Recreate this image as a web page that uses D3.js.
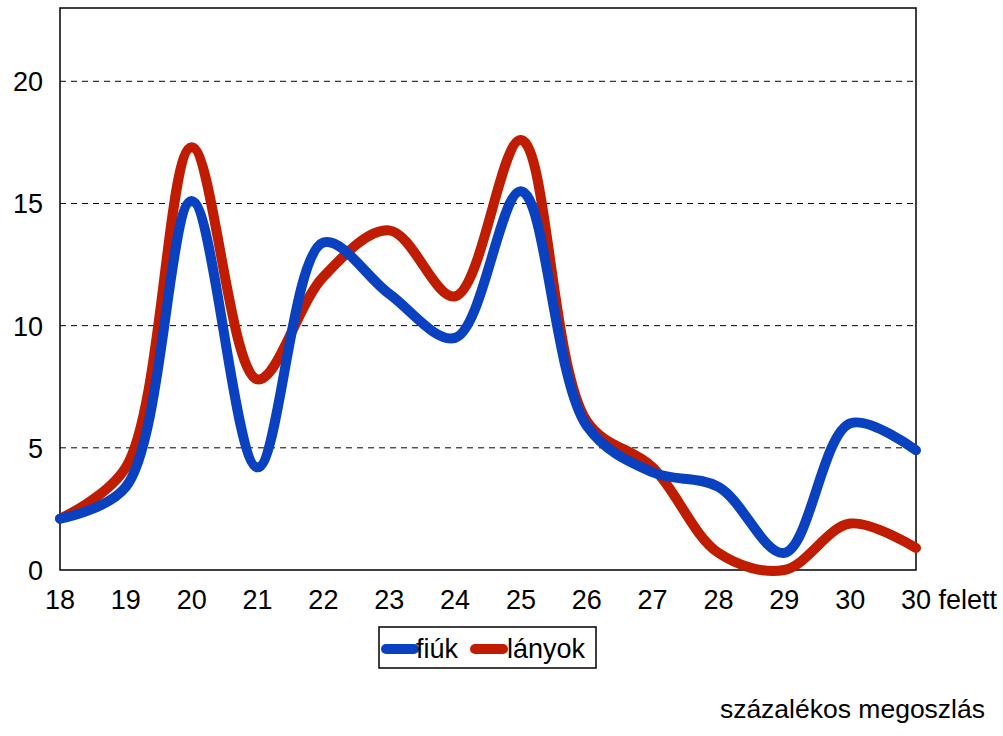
<!DOCTYPE html>
<html><head><meta charset="utf-8">
<script src="https://cdn.jsdelivr.net/npm/d3@7"></script>
<style>body{margin:0;background:#fff;} svg{display:block;font-family:"Liberation Sans",Arial,sans-serif;}</style>
</head><body>
<svg id="c" width="1003" height="736"></svg>
<script>
const categories = ["18","19","20","21","22","23","24","25","26","27","28","29","30","30 felett"];
const fiuk   = [2.1, 3.4, 15.1, 4.2, 13.4, 11.3, 9.5, 15.5, 5.9, 4.0, 3.4, 0.7, 6.0, 4.9];
const lanyok = [2.1, 4.2, 17.3, 7.8, 12.0, 13.9, 11.2, 17.6, 6.1, 4.2, 0.7, 0.0, 1.9, 0.9];
const seriesNames = ["fiúk","lányok"];
const colors = ["#0a41c0","#c01c00"];
const yTicks = [0,5,10,15,20];

const svg = d3.select("#c");
const L=60, R=916, T=8, B=570;
const x = d3.scalePoint().domain(categories).range([L,R]);
const y = d3.scaleLinear().domain([0,23]).range([B,T]);

svg.append("g").selectAll("line").data(yTicks.filter(d=>d>0)).join("line")
  .attr("x1",L).attr("x2",R).attr("y1",d=>y(d)).attr("y2",d=>y(d))
  .attr("stroke","#000").attr("stroke-width",1).attr("stroke-dasharray","6,5");

svg.append("rect").attr("x",L).attr("y",T).attr("width",R-L).attr("height",B-T)
  .attr("fill","none").attr("stroke","#000").attr("stroke-width",1.5);

svg.append("g").selectAll("text").data(yTicks).join("text")
  .attr("x",43).attr("y",d=>y(d)+10).attr("text-anchor","end")
  .attr("font-size",27).text(d=>d);

svg.append("g").selectAll("text").data(categories).join("text")
  .attr("x",d=>x(d)).attr("y",609)
  .attr("text-anchor",d=>d.length>2?"start":"middle")
  .attr("dx",d=>d.length>2?-15:0)
  .attr("font-size",27).text(d=>d);

const line = d3.line().x((d,i)=>x(categories[i])).y(d=>y(d)).curve(d3.curveCatmullRom.alpha(0.5));
[[lanyok,1],[fiuk,0]].forEach(([s,idx])=>{
  svg.append("path").datum(s).attr("d",line).attr("fill","none")
    .attr("stroke",colors[idx]).attr("stroke-width",10).attr("stroke-linecap","round").attr("stroke-linejoin","round");
});

const lg = svg.append("g");
lg.append("rect").attr("x",379).attr("y",627).attr("width",217).attr("height",41)
  .attr("fill","#fff").attr("stroke","#000").attr("stroke-width",1.5);
const lx=[386,475], tx=[416,507];
seriesNames.forEach((n,i)=>{
  lg.append("line").attr("x1",lx[i]).attr("x2",lx[i]+28).attr("y1",649).attr("y2",649)
    .attr("stroke",colors[i]).attr("stroke-width",10).attr("stroke-linecap","round");
  lg.append("text").attr("x",tx[i]).attr("y",658).attr("font-size",27).text(n);
});

svg.append("text").attr("x",985).attr("y",718).attr("text-anchor","end").attr("font-size",26.5).text("százalékos megoszlás");
</script>
</body></html>
